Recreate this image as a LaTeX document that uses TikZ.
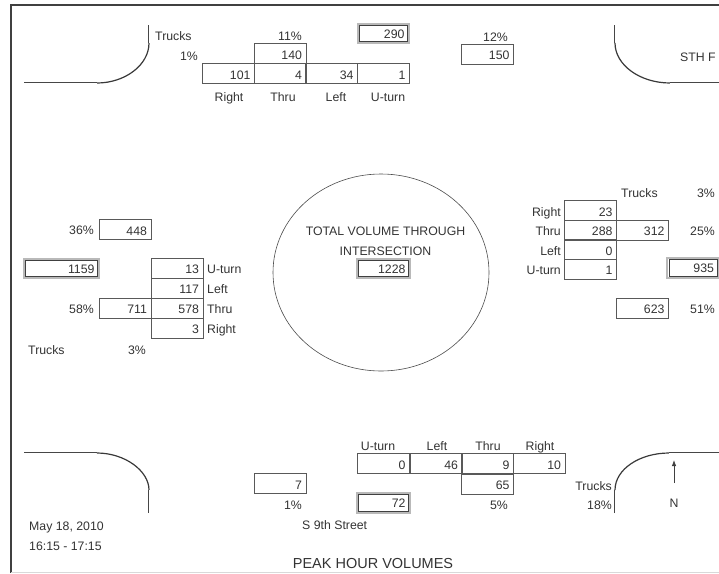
\documentclass[tikz,border=0pt]{standalone}
\usepackage{fontspec}
\setmainfont{Liberation Sans}
\usetikzlibrary{shapes.geometric,arrows.meta}

\begin{document}
\begin{tikzpicture}[x=1pt, y=-1pt, font=\fontsize{12.3}{14}\selectfont, text=black!80,
    cell/.style={draw=gray!70!black, line width=0.7pt, minimum width=52pt, minimum height=20pt,
                 text width=44pt, align=flush right, inner xsep=4pt, inner ysep=1.5pt,
                 text height=14pt, text depth=2.5pt},
    tcell/.style={draw=gray!50!black, line width=0.6pt, minimum height=16pt, align=flush right,
                  inner xsep=3pt, inner ysep=1.5pt, text height=11pt, text depth=1.5pt},
    frame/.style={draw=gray!55, line width=2.2pt},
    lbl/.style={inner sep=0pt, text height=8.8pt, text depth=0pt},
    rim/.style={draw=gray!55!black, line width=0.6pt, double=white, double distance=0.8pt},
    kerb/.style={draw=gray!45!black, line width=1.2pt}]
  \useasboundingbox (0,0) rectangle (719,573);

  % --- page frame ---
  \draw[line width=2.6pt, black!75] (11,573) -- (11,5) -- (719,5);
  \draw[line width=0.8pt, gray!30] (11,572) -- (719,572);

  % --- kerbs at the four corners ---
  \coordinate (tlA) at (24,83);  \coordinate (tlB) at (97,83);
  \coordinate (tlC) at (149,43); \coordinate (tlD) at (149,25);
  \draw[rim] (tlA) -- (tlB);
  \draw[kerb] (tlB) .. controls (125,83) and (149,65) .. (tlC);
  \draw[rim] (tlC) -- (tlD);
  \coordinate (trA) at (615,25); \coordinate (trB) at (615,43);
  \coordinate (trC) at (670,83); \coordinate (trD) at (719,83);
  \draw[rim] (trA) -- (trB);
  \draw[kerb] (trB) .. controls (615,65) and (640,83) .. (trC);
  \draw[rim] (trC) -- (trD);
  \coordinate (blA) at (24,453);  \coordinate (blB) at (97,453);
  \coordinate (blC) at (149,490); \coordinate (blD) at (149,513);
  \draw[rim] (blA) -- (blB);
  \draw[kerb] (blB) .. controls (125,453) and (149,471) .. (blC);
  \draw[rim] (blC) -- (blD);
  \coordinate (brA) at (615,513); \coordinate (brB) at (615,490);
  \coordinate (brC) at (669,453); \coordinate (brD) at (719,453);
  \draw[rim] (brA) -- (brB);
  \draw[kerb] (brB) .. controls (615,469) and (640,453) .. (brC);
  \draw[rim] (brC) -- (brD);

  % --- north approach (top) ---
  \node[lbl, anchor=west] (nTrk) at (155,36) {Trucks};
  \node[lbl, anchor=east] (nTrkP) at (302,36) {11\%};
  \node[lbl, anchor=east] (nOneP) at (198,56) {1\%};
  \node[cell] (nIn) at (280,53.5) {140};
  \node[cell] (nR) at (228.5,73.5) {101};
  \node[cell] (nT) at (280,73.5) {4};
  \node[cell] (nL) at (331.5,73.5) {34};
  \node[cell] (nU) at (383.5,73.5) {1};
  \foreach \nm/\x/\t in {nRl/229/Right, nTl/283/Thru, nLl/336/Left, nUl/388/U-turn} {
    \node[lbl] (\nm) at (\x,97) {\t};
  }
  \node[tcell, minimum width=48pt, text width=42pt] (nTot) at (383.5,33.5) {290};
  \node[lbl, anchor=east] (nOutP) at (508,37) {12\%};
  \node[cell] (nOut) at (487.5,54) {150};
  \node[lbl, anchor=west] (nName) at (680,57) {STH F};

  % --- west approach (left) ---
  \node[lbl, anchor=east] (wOutP) at (94,230.5) {36\%};
  \node[cell] (wOut) at (125,229.5) {448};
  \node[tcell, minimum width=72pt, text width=66pt] (wTot) at (61.5,268.5) {1159};
  \node[cell] (wU) at (177,268) {13};
  \node[cell] (wL) at (177,288) {117};
  \node[cell] (wT) at (177,308) {578};
  \node[cell] (wR) at (177,328) {3};
  \foreach \nm/\y/\t in {wUl/269.5/U-turn, wLl/289.5/Left, wTl/309.5/Thru, wRl/329.5/Right} {
    \node[lbl, anchor=west] (\nm) at (207,\y) {\t};
  }
  \node[cell] (wIn) at (125,308) {711};
  \node[lbl, anchor=east] (wInP) at (94,309.5) {58\%};
  \node[lbl, anchor=west] (wTrk) at (28,350) {Trucks};
  \node[lbl] (wTrkP) at (137,350) {3\%};

  % --- east approach (right) ---
  \node[lbl, anchor=west] (eTrk) at (621,193) {Trucks};
  \node[lbl, anchor=east] (eTrkP) at (715,193) {3\%};
  \node[cell] (eR) at (590.5,210.5) {23};
  \node[cell] (eT) at (590.5,230) {288};
  \node[cell] (eL) at (590.5,249.5) {0};
  \node[cell] (eU) at (590.5,269) {1};
  \foreach \nm/\y/\t in {eRl/212/Right, eTl/231.5/Thru, eLl/251/Left, eUl/270.5/U-turn} {
    \node[lbl, anchor=east] (\nm) at (561,\y) {\t};
  }
  \node[cell] (eIn) at (642.5,230) {312};
  \node[lbl, anchor=east] (eInP) at (715,231.5) {25\%};
  \node[tcell, minimum width=48pt, text width=42pt, minimum height=17pt] (eTot) at (693,268) {935};
  \node[cell] (eOut) at (642.5,308) {623};
  \node[lbl, anchor=east] (eOutP) at (715,309.5) {51\%};

  % --- intersection total ---
  \node[draw=gray!60!black, line width=0.6pt, ellipse, minimum width=216pt, minimum height=197pt,
        inner sep=0pt] (ring) at (381,272.5) {};
  \node[lbl] (ringA) at (385.5,231) {TOTAL VOLUME THROUGH};
  \node[lbl] (ringB) at (385.5,251) {INTERSECTION};
  \node[tcell, minimum width=50pt, text width=44pt] (ringTot) at (383.5,268.5) {1228};

  % --- south approach (bottom) ---
  \foreach \nm/\x/\t in {sUl/378/U-turn, sLl/437/Left, sTl/488/Thru, sRl/540/Right} {
    \node[lbl] (\nm) at (\x,446) {\t};
  }
  \node[cell] (sU) at (383.5,463.5) {0};
  \node[cell] (sL) at (436,463.5) {46};
  \node[cell] (sT) at (487.5,463.5) {9};
  \node[cell] (sR) at (539,463.5) {10};
  \node[cell] (sIn) at (487.5,484) {65};
  \node[lbl, anchor=east] (sInP) at (508,505) {5\%};
  \node[cell] (sOut) at (280,483.5) {7};
  \node[lbl, anchor=east] (sOutP) at (302,505) {1\%};
  \node[tcell, minimum width=50pt, text width=44pt, minimum height=17pt] (sTot) at (383.5,503) {72};
  \node[lbl, anchor=west] (sName) at (302,525) {S 9th Street};
  \node[lbl, anchor=east] (sTrk) at (612,486) {Trucks};
  \node[lbl, anchor=east] (sTrkP) at (612,505) {18\%};

  % --- outer rims of the totals ---
  \foreach \n in {nTot, wTot, eTot, ringTot, sTot} {
    \draw[frame] ([shift={(-1.4pt,-1.4pt)}]\n.south west) rectangle ([shift={(1.4pt,1.4pt)}]\n.north east);
  }

  % --- north arrow ---
  \coordinate (arS) at (674,483);
  \coordinate (arN) at (674,460);
  \draw[black!75, line width=0.8pt, -{Latex[length=6pt, width=4.5pt]}] (arS) -- (arN);
  \node[lbl] (north) at (674,503) {N};

  % --- date and title ---
  \node[lbl, anchor=west] (date) at (29,526) {May 18, 2010};
  \node[lbl, anchor=west] (time) at (29,546) {16:15 - 17:15};
  \node[lbl, font=\fontsize{14.5}{16}\selectfont, text height=10.4pt] (title) at (373,563) {PEAK HOUR VOLUMES};
\end{tikzpicture}
\end{document}
